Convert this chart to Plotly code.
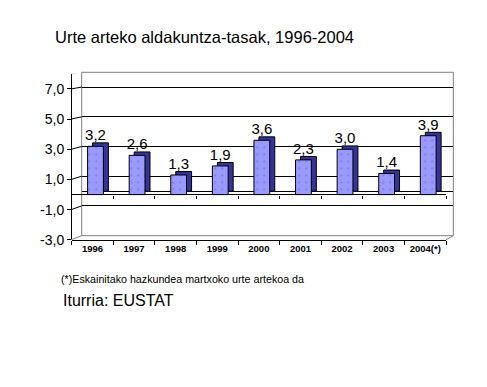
import plotly.graph_objects as go

# ---- data ----
years = ["1996", "1997", "1998", "1999", "2000", "2001", "2002", "2003", "2004(*)"]
values = [3.2, 2.6, 1.3, 1.9, 3.6, 2.3, 3.0, 1.4, 3.9]
value_labels = [f"{v:.1f}".replace(".", ",") for v in values]
ytick_vals = [-3, -1, 1, 3, 5, 7]
ytick_text = [f"{v:.1f}".replace(".", ",") for v in ytick_vals]
y_range = [-3, 8]

title = "Urte arteko aldakuntza-tasak, 1996-2004"
footnote = "(*)Eskainitako hazkundea martxoko urte artekoa da"
source = "Iturria: EUSTAT"

# ---- layout geometry (page pixels) ----
W, H = 487, 387
OFF = 8                              # default page body margin
FW, FH = W - 2 * OFF, H - 2 * OFF    # figure size (fits page without scrolling)
FONT = "Liberation Sans, Arial, sans-serif"
FX0, FX1 = 71.7, 446.0        # front plane x extent
FY_BOT, FY_TOP = 245.0, 75.3  # front plane y extent
BX0, BX1 = 81.7, 453.3        # back wall x extent
BY_BOT, BY_TOP = 240.7, 73.7  # back wall y extent
SDX, SDY = 5.0, 3.5           # bar depth offset
AXIS_X = 71.0
BAR_W = 0.38
BAR_OFF = -BAR_W / 2 + 3.0 / ((FX1 - FX0) / len(years))


def px(x):
    return (x - OFF) / FW


def py(y):
    return (FH - (y - OFF)) / FH


span = y_range[1] - y_range[0]


def front_px(v):
    return FY_BOT - (v - y_range[0]) / span * (FY_BOT - FY_TOP)


def back_px(v):
    return BY_BOT - (v - y_range[0]) / span * (BY_BOT - BY_TOP)


fig = go.Figure()

# back wall subplot (gridlines)
fig.add_trace(go.Scatter(x=[0.5], y=[0], xaxis="x", yaxis="y", mode="markers",
                         marker=dict(opacity=0), hoverinfo="skip", showlegend=False))
# bar depth (side/top faces)
fig.add_trace(go.Bar(x=years, y=values, xaxis="x2", yaxis="y2", width=BAR_W, offset=BAR_OFF,
                     marker=dict(color="#333399", line=dict(color="black", width=1)),
                     hoverinfo="skip", showlegend=False))
# front faces
fig.add_trace(go.Bar(x=years, y=values, xaxis="x3", yaxis="y3", width=BAR_W, offset=BAR_OFF,
                     marker=dict(color="#9999FF", line=dict(color="black", width=1),
                                 pattern=dict(shape=".", size=7, solidity=0.06,
                                              fgcolor="#7878D8", bgcolor="#9999FF",
                                              fillmode="replace")),
                     text=value_labels, textposition="outside", constraintext="none",
                     cliponaxis=False,
                     textfont=dict(family=FONT, size=15, color="black"),
                     showlegend=False))
# zero-level category ticks
fig.add_trace(go.Scatter(x=years, y=[0] * len(years), xaxis="x5", yaxis="y3", mode="markers",
                         marker=dict(opacity=0), hoverinfo="skip", showlegend=False))

zero_pos = py(front_px(0))

shapes = [
    dict(type="rect", xref="x domain", yref="y domain", x0=0, x1=1, y0=0, y1=1,
         line=dict(color="#808080", width=1), layer="below"),
]
for v in ytick_vals + [y_range[1]]:
    dy = front_px(v) - back_px(v)
    col = "#808080" if v in (y_range[0], y_range[1]) else "black"
    shapes.append(dict(type="line", xref="paper", x0=px(AXIS_X), x1=px(BX0),
                       yref="y3", ysizemode="pixel", yanchor=v, y0=0, y1=dy,
                       line=dict(color=col, width=1)))
dy_b = front_px(y_range[0]) - back_px(y_range[0])
shapes.append(dict(type="line", xref="paper", x0=px(FX1), x1=px(BX1),
                   yref="y3", ysizemode="pixel", yanchor=y_range[0], y0=0, y1=dy_b,
                   line=dict(color="#808080", width=1)))

annotations = [
    dict(text=title, xref="paper", yref="paper", x=px(53), y=py(38), xanchor="left",
         yanchor="middle", showarrow=False, font=dict(family=FONT, size=16.5, color="black")),
    dict(text=footnote, xref="paper", yref="paper", x=px(59), y=py(285), xanchor="left",
         yanchor="middle", showarrow=False, font=dict(family=FONT, size=10.7, color="black")),
    dict(text=source, xref="paper", yref="paper", x=px(61), y=py(306.5), xanchor="left",
         yanchor="middle", showarrow=False, font=dict(family=FONT, size=16, color="black")),
]

hidden = dict(showgrid=False, zeroline=False, showline=False, showticklabels=False, ticks="")

fig.update_layout(
    width=FW, height=FH, autosize=False,
    margin=dict(l=0, r=0, t=0, b=0),
    paper_bgcolor="white", plot_bgcolor="rgba(0,0,0,0)",
    bargap=0.6, showlegend=False,
    font=dict(family=FONT, color="black"),
    xaxis=dict(domain=[px(BX0), px(BX1)], range=[0, 1], anchor="y", **hidden),
    yaxis=dict(domain=[py(BY_BOT), py(BY_TOP)], range=y_range, anchor="x",
               tickvals=ytick_vals[1:], showgrid=True, gridcolor="black", gridwidth=1,
               zeroline=True, zerolinecolor="black", zerolinewidth=1,
               showticklabels=False, ticks="", showline=False),
    xaxis2=dict(domain=[px(FX0 + SDX), px(FX1 + SDX)], type="category",
                categoryorder="array", categoryarray=years,
                range=[-0.5, len(years) - 0.5], anchor="y2", **hidden),
    yaxis2=dict(domain=[py(FY_BOT - SDY), py(FY_TOP - SDY)], range=y_range, anchor="x2", **hidden),
    xaxis3=dict(domain=[px(FX0), px(FX1)], type="category",
                categoryorder="array", categoryarray=years,
                range=[-0.5, len(years) - 0.5], anchor="y3",
                showline=True, linecolor="black", linewidth=1,
                ticks="outside", tickson="boundaries", ticklen=4, tickcolor="black",
                showgrid=False, zeroline=False,
                tickfont=dict(family=FONT, size=9.5, color="black", weight="bold")),
    yaxis3=dict(domain=[py(FY_BOT), py(FY_TOP)], range=y_range, anchor="free",
                position=px(AXIS_X), tickvals=ytick_vals, ticktext=ytick_text,
                ticks="outside", ticklen=4, tickcolor="black",
                showline=True, linecolor="black", linewidth=1,
                showgrid=False, zeroline=True, zerolinecolor="black", zerolinewidth=1,
                tickfont=dict(family=FONT, size=14, color="black")),
    xaxis5=dict(overlaying="x3", anchor="free", position=zero_pos, type="category",
                categoryorder="array", categoryarray=years,
                range=[-0.5, len(years) - 0.5],
                showline=False, ticks="outside", tickson="boundaries", ticklen=3,
                tickcolor="black", showticklabels=False, showgrid=False, zeroline=False),
    shapes=shapes,
    annotations=annotations,
)

fig.write_html("out.html")
